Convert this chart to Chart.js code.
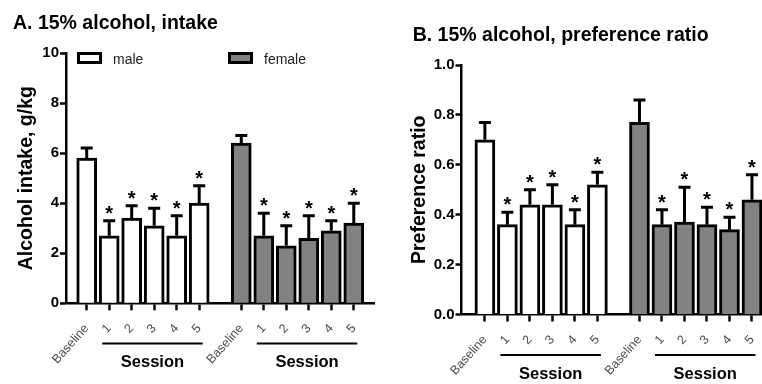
<!DOCTYPE html>
<html>
<head>
<meta charset="utf-8">
<script src="https://cdn.jsdelivr.net/npm/chart.js@4.4.1/dist/chart.umd.min.js"></script>
<style>
  html, body { margin: 0; padding: 0; width: 762px; height: 384px; overflow: hidden; background: #fff; }
  .panel { position: absolute; top: 0; }
  #panelA { left: 0; }
  #panelB { left: 381px; }
</style>
</head>
<body>
<div class="panel" id="panelA"><canvas id="chartA" width="381" height="384"></canvas></div>
<div class="panel" id="panelB"><canvas id="chartB" width="400" height="384"></canvas></div>
<script>
// ---- data ----
const tickLabels = ['Baseline', '1', '2', '3', '4', '5'];
const seriesNames = ['male', 'female'];

const intakeMale      = [5.8, 2.7, 3.4, 3.1, 2.7, 4.0];
const intakeMaleSem   = [0.4, 0.6, 0.5, 0.7, 0.8, 0.7];
const intakeFemale    = [6.4, 2.7, 2.3, 2.6, 2.9, 3.2];
const intakeFemaleSem = [0.3, 0.9, 0.8, 0.9, 0.4, 0.8];

const prefMale        = [0.70, 0.36, 0.44, 0.44, 0.36, 0.52];
const prefMaleSem     = [0.07, 0.05, 0.06, 0.08, 0.06, 0.05];
const prefFemale      = [0.77, 0.36, 0.37, 0.36, 0.34, 0.46];
const prefFemaleSem   = [0.09, 0.06, 0.14, 0.07, 0.05, 0.10];

const significant = [false, true, true, true, true, true];

// ---- layout / style ----
const FONT = '"Liberation Sans", Arial, Helvetica, sans-serif';
const FEMALE_START = 6.87;           // x position of the female baseline bar
const FILLS = ['#ffffff', '#828282'];

function positions(start) { return tickLabels.map((_, i) => start + i); }
const allTicks = positions(0).concat(positions(FEMALE_START));

const decorPlugin = (cfg) => ({
  id: 'decor',
  afterDatasetsDraw(chart) {
    const ctx = chart.ctx;
    const yScale = chart.scales.y;
    ctx.save();
    chart.data.datasets.forEach((ds, di) => {
      const meta = chart.getDatasetMeta(di);
      meta.data.forEach((bar, i) => {
        const top = yScale.getPixelForValue(ds.data[i].y + ds.sem[i]);
        ctx.strokeStyle = '#000';
        ctx.lineWidth = 3;
        ctx.lineCap = 'butt';
        ctx.beginPath();
        ctx.moveTo(bar.x, bar.y);
        ctx.lineTo(bar.x, top);
        ctx.moveTo(bar.x - 6, top);
        ctx.lineTo(bar.x + 6, top);
        ctx.stroke();
        if (significant[i]) {
          ctx.fillStyle = '#000';
          ctx.font = 'bold 20px ' + FONT;
          ctx.textAlign = 'center';
          ctx.textBaseline = 'alphabetic';
          ctx.fillText('*', bar.x, top - 1);
        }
      });
    });
    ctx.restore();
  },
  afterDraw(chart) {
    const ctx = chart.ctx;
    const x = chart.scales.x;
    ctx.save();
    // panel title
    ctx.fillStyle = '#000';
    ctx.font = 'bold 19.5px ' + FONT;
    ctx.textAlign = 'left';
    ctx.textBaseline = 'alphabetic';
    ctx.fillText(cfg.title, cfg.titleX, cfg.titleY);

    // "Session" brackets under sessions 1-5 of each group
    [0, FEMALE_START].forEach(start => {
      const x1 = x.getPixelForValue(start + 1) - 7;
      const x2 = x.getPixelForValue(start + 5) + 3.5;
      ctx.strokeStyle = '#000';
      ctx.lineWidth = 2;
      ctx.beginPath();
      ctx.moveTo(x1, cfg.sessionLineY);
      ctx.lineTo(x2, cfg.sessionLineY);
      ctx.stroke();
      ctx.font = 'bold 16.5px ' + FONT;
      ctx.textAlign = 'center';
      ctx.fillText('Session', (x1 + x2) / 2, cfg.sessionTextY);
    });

    // legend
    if (cfg.legend) {
      cfg.legend.forEach((item, k) => {
        ctx.fillStyle = FILLS[k];
        ctx.fillRect(item.x + 1.5, 53.5, 22, 9);
        ctx.strokeStyle = '#000';
        ctx.lineWidth = 3;
        ctx.strokeRect(item.x + 1.5, 53.5, 22, 9);
        ctx.fillStyle = '#222';
        ctx.font = '14px ' + FONT;
        ctx.textAlign = 'left';
        ctx.fillText(seriesNames[k], item.x + 36, 63.5);
      });
    }
    ctx.restore();
  }
});

function makeChart(canvasId, opt) {
  const datasets = [opt.male, opt.female].map((vals, k) => ({
    label: seriesNames[k],
    data: vals.map((v, i) => ({ x: (k === 0 ? 0 : FEMALE_START) + i, y: v })),
    sem: k === 0 ? opt.maleSem : opt.femaleSem,
    backgroundColor: FILLS[k],
    borderColor: '#000',
    borderWidth: 3,
    barThickness: 20,
    grouped: false
  }));

  return new Chart(document.getElementById(canvasId), {
    type: 'bar',
    data: { datasets },
    options: {
      responsive: false,
      animation: false,
      devicePixelRatio: 1,
      layout: { padding: opt.padding },
      plugins: { legend: { display: false }, tooltip: { enabled: false } },
      scales: {
        x: {
          type: 'linear',
          min: opt.xMin,
          max: opt.xMax,
          offset: false,
          z: 1,
          afterBuildTicks: s => { s.ticks = allTicks.map(v => ({ value: v })); },
          afterFit: s => { s.height = opt.xHeight; },
          grid: { offset: false, drawOnChartArea: false, drawTicks: true, tickLength: 7, tickWidth: 2.5, tickColor: '#000' },
          border: { display: true, color: '#000', width: 2.5 },
          ticks: {
            autoSkip: false,
            minRotation: 48,
            maxRotation: 48,
            padding: 11,
            color: '#4a4a4a',
            font: { family: FONT, size: 12.5 },
            callback: (v, i) => tickLabels[i % tickLabels.length]
          }
        },
        y: {
          min: 0,
          max: opt.yMax,
          z: 1,
          afterFit: s => { s.width = opt.yWidth; },
          grid: { drawOnChartArea: false, drawTicks: true, tickLength: 6, tickWidth: 2.5, tickColor: '#000' },
          border: { display: true, color: '#000', width: 2.5 },
          ticks: {
            stepSize: opt.yStep,
            padding: 1,
            color: '#000',
            font: { family: FONT, size: 15, weight: 'bold' },
            callback: opt.yFormat
          },
          title: {
            display: true,
            text: opt.yTitle,
            color: '#000',
            font: { family: FONT, size: 19.5, weight: 'bold' },
            padding: { top: opt.yTitlePad, bottom: 0 }
          }
        }
      }
    },
    plugins: [decorPlugin(opt.decor)]
  });
}

makeChart('chartA', {
  male: intakeMale, maleSem: intakeMaleSem,
  female: intakeFemale, femaleSem: intakeFemaleSem,
  xMin: -0.92, xMax: 12.8,
  yMax: 10, yStep: 2, yFormat: v => String(v),
  yTitle: 'Alcohol intake, g/kg', yTitlePad: 14.8,
  yWidth: 66, xHeight: 80.7,
  padding: { left: 0, top: 53, right: 6.3, bottom: 0 },
  decor: {
    title: 'A. 15% alcohol, intake', titleX: 13, titleY: 29.3,
    sessionLineY: 343.5, sessionTextY: 367,
    legend: [{ x: 77 }, { x: 228 }]
  }
});

makeChart('chartB', {
  male: prefMale, maleSem: prefMaleSem,
  female: prefFemale, femaleSem: prefFemaleSem,
  xMin: -1.04, xMax: 12.8,
  yMax: 1, yStep: 0.2, yFormat: v => v.toFixed(1),
  yTitle: 'Preference ratio', yTitlePad: 26.6,
  yWidth: 80.5, xHeight: 69.5,
  padding: { left: 0, top: 65, right: 8.1, bottom: 0 },
  decor: {
    title: 'B. 15% alcohol, preference ratio', titleX: 31.7, titleY: 40.5,
    sessionLineY: 355, sessionTextY: 379,
    legend: null
  }
});
</script>
</body>
</html>
